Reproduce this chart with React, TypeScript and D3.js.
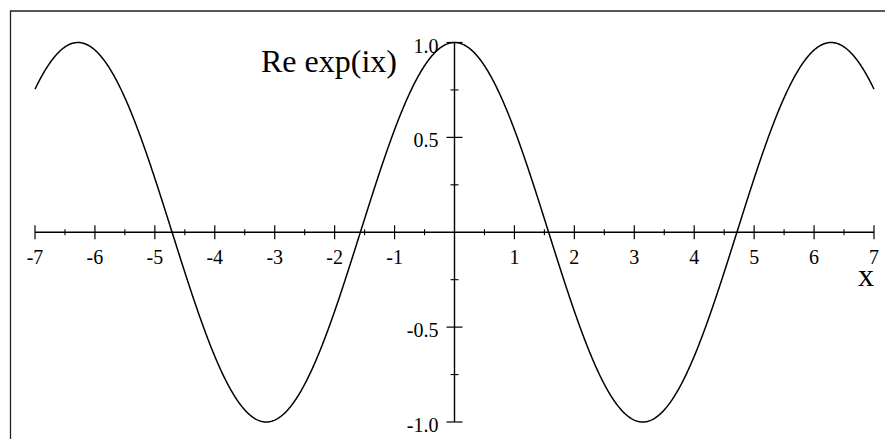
import React from "react";
import * as d3 from "d3";

// Plot of Re exp(ix) = cos(x) on [-7, 7]
const xDomain: [number, number] = [-7, 7];
const yDomain: [number, number] = [-1, 1];
const xTickLabels = [-7, -6, -5, -4, -3, -2, -1, 1, 2, 3, 4, 5, 6, 7];
const xMinorTicks = [-6.5, -5.5, -4.5, -3.5, -2.5, -1.5, -0.5, 0.5, 1.5, 2.5, 3.5, 4.5, 5.5, 6.5];
const yTickLabels = [-1.0, -0.5, 0.5, 1.0];
const yMinorTicks = [-0.75, -0.25, 0.25, 0.75];
const curveTitle = "Re exp(ix)";
const axisTitle = "x";

// sample points of the real part of exp(ix)
const samples = d3.range(0, 1401).map((i) => -7 + i * 0.01);
const curvePoints = samples.map((t) => ({ x: t, y: Math.cos(t) }));

const W = 885;
const H = 439;

export default function App() {
  const x = d3.scaleLinear().domain(xDomain).range([35, 874]);
  const y = d3.scaleLinear().domain(yDomain).range([422, 42.5]);
  const x0 = x(0);
  const y0 = y(0);
  const line = d3
    .line<{ x: number; y: number }>()
    .x((d) => x(d.x))
    .y((d) => y(d.y))
    .curve(d3.curveLinear);
  const font = "'Liberation Serif', 'Times New Roman', serif";

  return (
    <svg
      width={W}
      height={H}
      style={{ position: "absolute", left: 0, top: 0, background: "#fff" }}
    >
      <rect x={0} y={0} width={W} height={H} fill="#fff" />
      {/* frame */}
      <path d={`M10.5,${H + 5} V11 H${W + 5}`} fill="none" stroke="#222" strokeWidth={1.3} />

      {/* x axis */}
      <line x1={x(xDomain[0])} x2={x(xDomain[1])} y1={y0} y2={y0} stroke="#000" strokeWidth={1.4} />
      {xTickLabels.map((v) => (
        <line key={`xt${v}`} x1={x(v)} x2={x(v)} y1={y0 - 7} y2={y0 + 7} stroke="#000" strokeWidth={1.2} />
      ))}
      {xMinorTicks.map((v) => (
        <line key={`xm${v}`} x1={x(v)} x2={x(v)} y1={y0 - 3} y2={y0 + 3} stroke="#000" strokeWidth={1.1} />
      ))}
      {xTickLabels.map((v) => (
        <text
          key={`xl${v}`}
          x={x(v)}
          y={y0 + 32}
          textAnchor="middle"
          fontFamily={font}
          fontSize={20}
          fill="#000"
        >
          {v}
        </text>
      ))}

      {/* y axis */}
      <line x1={x0} x2={x0} y1={y(yDomain[0])} y2={y(yDomain[1])} stroke="#000" strokeWidth={1.4} />
      {yTickLabels.map((v) => (
        <line key={`yt${v}`} x1={x0 - 8} x2={x0 + 8} y1={y(v)} y2={y(v)} stroke="#000" strokeWidth={1.2} />
      ))}
      {yMinorTicks.map((v) => (
        <line key={`ym${v}`} x1={x0 - 4} x2={x0 + 4} y1={y(v)} y2={y(v)} stroke="#000" strokeWidth={1.1} />
      ))}
      {yTickLabels.map((v) => (
        <text
          key={`yl${v}`}
          x={x0 - 16}
          y={y(v) + 10}
          textAnchor="end"
          fontFamily={font}
          fontSize={20}
          fill="#000"
        >
          {v.toFixed(1)}
        </text>
      ))}

      {/* curve */}
      <path d={line(curvePoints) || ""} fill="none" stroke="#000" strokeWidth={1.5} />

      {/* titles */}
      <text x={261} y={72} fontFamily={font} fontSize={32} fill="#000">
        {curveTitle}
      </text>
      <text x={x(7)} y={286} textAnchor="end" fontFamily={font} fontSize={32} fill="#000">
        {axisTitle}
      </text>
    </svg>
  );
}
